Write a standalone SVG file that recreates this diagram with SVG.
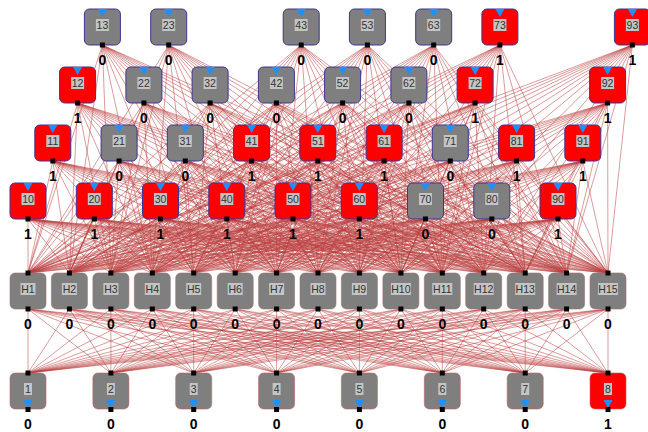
<svg xmlns="http://www.w3.org/2000/svg" width="648" height="432" viewBox="0 0 648 432">
<style>
.in .b{stroke:#3d3596;stroke-width:1}
.hd .b{stroke:#a07070;stroke-width:.6}
.ou .b{stroke:#c06060;stroke-width:.6}
.g{fill:#7f7f7f}
.r{fill:#ff0000}
.tr{fill:#1e90ff}
.tb{fill:#c4c4c4}
.p{fill:#000}
.t{font-family:"Liberation Sans",Arial,sans-serif;font-size:10.5px;fill:#333;text-anchor:middle}
.v{font-family:"Liberation Sans",Arial,sans-serif;font-size:14px;font-weight:bold;fill:#000;text-anchor:middle}
#conn path{fill:none;stroke:#bb4040;stroke-opacity:.62;stroke-width:.85}
</style>
<rect width="648" height="432" fill="#fff"/>
<g id="conn">
<path d="M28 219L28 273M28 219L69.4 273M28 219L110.9 273M28 219L152.3 273M28 219L193.7 273M28 219L235.2 273M28 219L276.6 273M28 219L318 273M28 219L359.4 273M28 219L400.9 273M28 219L442.3 273M28 219L483.7 273M28 219L525.2 273M28 219L566.6 273M28 219L608 273"/>
<path d="M94.3 219L28 273M94.3 219L69.4 273M94.3 219L110.9 273M94.3 219L152.3 273M94.3 219L193.7 273M94.3 219L235.2 273M94.3 219L276.6 273M94.3 219L318 273M94.3 219L359.4 273M94.3 219L400.9 273M94.3 219L442.3 273M94.3 219L483.7 273M94.3 219L525.2 273M94.3 219L566.6 273M94.3 219L608 273"/>
<path d="M160.5 219L28 273M160.5 219L69.4 273M160.5 219L110.9 273M160.5 219L152.3 273M160.5 219L193.7 273M160.5 219L235.2 273M160.5 219L276.6 273M160.5 219L318 273M160.5 219L359.4 273M160.5 219L400.9 273M160.5 219L442.3 273M160.5 219L483.7 273M160.5 219L525.2 273M160.5 219L566.6 273M160.5 219L608 273"/>
<path d="M226.8 219L28 273M226.8 219L69.4 273M226.8 219L110.9 273M226.8 219L152.3 273M226.8 219L193.7 273M226.8 219L235.2 273M226.8 219L276.6 273M226.8 219L318 273M226.8 219L359.4 273M226.8 219L400.9 273M226.8 219L442.3 273M226.8 219L483.7 273M226.8 219L525.2 273M226.8 219L566.6 273M226.8 219L608 273"/>
<path d="M293 219L28 273M293 219L69.4 273M293 219L110.9 273M293 219L152.3 273M293 219L193.7 273M293 219L235.2 273M293 219L276.6 273M293 219L318 273M293 219L359.4 273M293 219L400.9 273M293 219L442.3 273M293 219L483.7 273M293 219L525.2 273M293 219L566.6 273M293 219L608 273"/>
<path d="M359.3 219L28 273M359.3 219L69.4 273M359.3 219L110.9 273M359.3 219L152.3 273M359.3 219L193.7 273M359.3 219L235.2 273M359.3 219L276.6 273M359.3 219L318 273M359.3 219L359.4 273M359.3 219L400.9 273M359.3 219L442.3 273M359.3 219L483.7 273M359.3 219L525.2 273M359.3 219L566.6 273M359.3 219L608 273"/>
<path d="M425.5 219L28 273M425.5 219L69.4 273M425.5 219L110.9 273M425.5 219L152.3 273M425.5 219L193.7 273M425.5 219L235.2 273M425.5 219L276.6 273M425.5 219L318 273M425.5 219L359.4 273M425.5 219L400.9 273M425.5 219L442.3 273M425.5 219L483.7 273M425.5 219L525.2 273M425.5 219L566.6 273M425.5 219L608 273"/>
<path d="M491.8 219L28 273M491.8 219L69.4 273M491.8 219L110.9 273M491.8 219L152.3 273M491.8 219L193.7 273M491.8 219L235.2 273M491.8 219L276.6 273M491.8 219L318 273M491.8 219L359.4 273M491.8 219L400.9 273M491.8 219L442.3 273M491.8 219L483.7 273M491.8 219L525.2 273M491.8 219L566.6 273M491.8 219L608 273"/>
<path d="M558 219L28 273M558 219L69.4 273M558 219L110.9 273M558 219L152.3 273M558 219L193.7 273M558 219L235.2 273M558 219L276.6 273M558 219L318 273M558 219L359.4 273M558 219L400.9 273M558 219L442.3 273M558 219L483.7 273M558 219L525.2 273M558 219L566.6 273M558 219L608 273"/>
<path d="M52.8 161L28 273M52.8 161L69.4 273M52.8 161L110.9 273M52.8 161L152.3 273M52.8 161L193.7 273M52.8 161L235.2 273M52.8 161L276.6 273M52.8 161L318 273M52.8 161L359.4 273M52.8 161L400.9 273M52.8 161L442.3 273M52.8 161L483.7 273M52.8 161L525.2 273M52.8 161L566.6 273M52.8 161L608 273"/>
<path d="M119.1 161L28 273M119.1 161L69.4 273M119.1 161L110.9 273M119.1 161L152.3 273M119.1 161L193.7 273M119.1 161L235.2 273M119.1 161L276.6 273M119.1 161L318 273M119.1 161L359.4 273M119.1 161L400.9 273M119.1 161L442.3 273M119.1 161L483.7 273M119.1 161L525.2 273M119.1 161L566.6 273M119.1 161L608 273"/>
<path d="M185.3 161L28 273M185.3 161L69.4 273M185.3 161L110.9 273M185.3 161L152.3 273M185.3 161L193.7 273M185.3 161L235.2 273M185.3 161L276.6 273M185.3 161L318 273M185.3 161L359.4 273M185.3 161L400.9 273M185.3 161L442.3 273M185.3 161L483.7 273M185.3 161L525.2 273M185.3 161L566.6 273M185.3 161L608 273"/>
<path d="M251.6 161L28 273M251.6 161L69.4 273M251.6 161L110.9 273M251.6 161L152.3 273M251.6 161L193.7 273M251.6 161L235.2 273M251.6 161L276.6 273M251.6 161L318 273M251.6 161L359.4 273M251.6 161L400.9 273M251.6 161L442.3 273M251.6 161L483.7 273M251.6 161L525.2 273M251.6 161L566.6 273M251.6 161L608 273"/>
<path d="M317.8 161L28 273M317.8 161L69.4 273M317.8 161L110.9 273M317.8 161L152.3 273M317.8 161L193.7 273M317.8 161L235.2 273M317.8 161L276.6 273M317.8 161L318 273M317.8 161L359.4 273M317.8 161L400.9 273M317.8 161L442.3 273M317.8 161L483.7 273M317.8 161L525.2 273M317.8 161L566.6 273M317.8 161L608 273"/>
<path d="M384.1 161L28 273M384.1 161L69.4 273M384.1 161L110.9 273M384.1 161L152.3 273M384.1 161L193.7 273M384.1 161L235.2 273M384.1 161L276.6 273M384.1 161L318 273M384.1 161L359.4 273M384.1 161L400.9 273M384.1 161L442.3 273M384.1 161L483.7 273M384.1 161L525.2 273M384.1 161L566.6 273M384.1 161L608 273"/>
<path d="M450.3 161L28 273M450.3 161L69.4 273M450.3 161L110.9 273M450.3 161L152.3 273M450.3 161L193.7 273M450.3 161L235.2 273M450.3 161L276.6 273M450.3 161L318 273M450.3 161L359.4 273M450.3 161L400.9 273M450.3 161L442.3 273M450.3 161L483.7 273M450.3 161L525.2 273M450.3 161L566.6 273M450.3 161L608 273"/>
<path d="M516.6 161L28 273M516.6 161L69.4 273M516.6 161L110.9 273M516.6 161L152.3 273M516.6 161L193.7 273M516.6 161L235.2 273M516.6 161L276.6 273M516.6 161L318 273M516.6 161L359.4 273M516.6 161L400.9 273M516.6 161L442.3 273M516.6 161L483.7 273M516.6 161L525.2 273M516.6 161L566.6 273M516.6 161L608 273"/>
<path d="M582.8 161L28 273M582.8 161L69.4 273M582.8 161L110.9 273M582.8 161L152.3 273M582.8 161L193.7 273M582.8 161L235.2 273M582.8 161L276.6 273M582.8 161L318 273M582.8 161L359.4 273M582.8 161L400.9 273M582.8 161L442.3 273M582.8 161L483.7 273M582.8 161L525.2 273M582.8 161L566.6 273M582.8 161L608 273"/>
<path d="M77.6 103L28 273M77.6 103L69.4 273M77.6 103L110.9 273M77.6 103L152.3 273M77.6 103L193.7 273M77.6 103L235.2 273M77.6 103L276.6 273M77.6 103L318 273M77.6 103L359.4 273M77.6 103L400.9 273M77.6 103L442.3 273M77.6 103L483.7 273M77.6 103L525.2 273M77.6 103L566.6 273M77.6 103L608 273"/>
<path d="M143.9 103L28 273M143.9 103L69.4 273M143.9 103L110.9 273M143.9 103L152.3 273M143.9 103L193.7 273M143.9 103L235.2 273M143.9 103L276.6 273M143.9 103L318 273M143.9 103L359.4 273M143.9 103L400.9 273M143.9 103L442.3 273M143.9 103L483.7 273M143.9 103L525.2 273M143.9 103L566.6 273M143.9 103L608 273"/>
<path d="M210.1 103L28 273M210.1 103L69.4 273M210.1 103L110.9 273M210.1 103L152.3 273M210.1 103L193.7 273M210.1 103L235.2 273M210.1 103L276.6 273M210.1 103L318 273M210.1 103L359.4 273M210.1 103L400.9 273M210.1 103L442.3 273M210.1 103L483.7 273M210.1 103L525.2 273M210.1 103L566.6 273M210.1 103L608 273"/>
<path d="M276.4 103L28 273M276.4 103L69.4 273M276.4 103L110.9 273M276.4 103L152.3 273M276.4 103L193.7 273M276.4 103L235.2 273M276.4 103L276.6 273M276.4 103L318 273M276.4 103L359.4 273M276.4 103L400.9 273M276.4 103L442.3 273M276.4 103L483.7 273M276.4 103L525.2 273M276.4 103L566.6 273M276.4 103L608 273"/>
<path d="M342.6 103L28 273M342.6 103L69.4 273M342.6 103L110.9 273M342.6 103L152.3 273M342.6 103L193.7 273M342.6 103L235.2 273M342.6 103L276.6 273M342.6 103L318 273M342.6 103L359.4 273M342.6 103L400.9 273M342.6 103L442.3 273M342.6 103L483.7 273M342.6 103L525.2 273M342.6 103L566.6 273M342.6 103L608 273"/>
<path d="M408.9 103L28 273M408.9 103L69.4 273M408.9 103L110.9 273M408.9 103L152.3 273M408.9 103L193.7 273M408.9 103L235.2 273M408.9 103L276.6 273M408.9 103L318 273M408.9 103L359.4 273M408.9 103L400.9 273M408.9 103L442.3 273M408.9 103L483.7 273M408.9 103L525.2 273M408.9 103L566.6 273M408.9 103L608 273"/>
<path d="M475.1 103L28 273M475.1 103L69.4 273M475.1 103L110.9 273M475.1 103L152.3 273M475.1 103L193.7 273M475.1 103L235.2 273M475.1 103L276.6 273M475.1 103L318 273M475.1 103L359.4 273M475.1 103L400.9 273M475.1 103L442.3 273M475.1 103L483.7 273M475.1 103L525.2 273M475.1 103L566.6 273M475.1 103L608 273"/>
<path d="M607.6 103L28 273M607.6 103L69.4 273M607.6 103L110.9 273M607.6 103L152.3 273M607.6 103L193.7 273M607.6 103L235.2 273M607.6 103L276.6 273M607.6 103L318 273M607.6 103L359.4 273M607.6 103L400.9 273M607.6 103L442.3 273M607.6 103L483.7 273M607.6 103L525.2 273M607.6 103L566.6 273M607.6 103L608 273"/>
<path d="M102.4 45L28 273M102.4 45L69.4 273M102.4 45L110.9 273M102.4 45L152.3 273M102.4 45L193.7 273M102.4 45L235.2 273M102.4 45L276.6 273M102.4 45L318 273M102.4 45L359.4 273M102.4 45L400.9 273M102.4 45L442.3 273M102.4 45L483.7 273M102.4 45L525.2 273M102.4 45L566.6 273M102.4 45L608 273"/>
<path d="M168.7 45L28 273M168.7 45L69.4 273M168.7 45L110.9 273M168.7 45L152.3 273M168.7 45L193.7 273M168.7 45L235.2 273M168.7 45L276.6 273M168.7 45L318 273M168.7 45L359.4 273M168.7 45L400.9 273M168.7 45L442.3 273M168.7 45L483.7 273M168.7 45L525.2 273M168.7 45L566.6 273M168.7 45L608 273"/>
<path d="M301.2 45L28 273M301.2 45L69.4 273M301.2 45L110.9 273M301.2 45L152.3 273M301.2 45L193.7 273M301.2 45L235.2 273M301.2 45L276.6 273M301.2 45L318 273M301.2 45L359.4 273M301.2 45L400.9 273M301.2 45L442.3 273M301.2 45L483.7 273M301.2 45L525.2 273M301.2 45L566.6 273M301.2 45L608 273"/>
<path d="M367.4 45L28 273M367.4 45L69.4 273M367.4 45L110.9 273M367.4 45L152.3 273M367.4 45L193.7 273M367.4 45L235.2 273M367.4 45L276.6 273M367.4 45L318 273M367.4 45L359.4 273M367.4 45L400.9 273M367.4 45L442.3 273M367.4 45L483.7 273M367.4 45L525.2 273M367.4 45L566.6 273M367.4 45L608 273"/>
<path d="M433.7 45L28 273M433.7 45L69.4 273M433.7 45L110.9 273M433.7 45L152.3 273M433.7 45L193.7 273M433.7 45L235.2 273M433.7 45L276.6 273M433.7 45L318 273M433.7 45L359.4 273M433.7 45L400.9 273M433.7 45L442.3 273M433.7 45L483.7 273M433.7 45L525.2 273M433.7 45L566.6 273M433.7 45L608 273"/>
<path d="M499.9 45L28 273M499.9 45L69.4 273M499.9 45L110.9 273M499.9 45L152.3 273M499.9 45L193.7 273M499.9 45L235.2 273M499.9 45L276.6 273M499.9 45L318 273M499.9 45L359.4 273M499.9 45L400.9 273M499.9 45L442.3 273M499.9 45L483.7 273M499.9 45L525.2 273M499.9 45L566.6 273M499.9 45L608 273"/>
<path d="M632.4 45L28 273M632.4 45L69.4 273M632.4 45L110.9 273M632.4 45L152.3 273M632.4 45L193.7 273M632.4 45L235.2 273M632.4 45L276.6 273M632.4 45L318 273M632.4 45L359.4 273M632.4 45L400.9 273M632.4 45L442.3 273M632.4 45L483.7 273M632.4 45L525.2 273M632.4 45L566.6 273M632.4 45L608 273"/>
<path d="M28 309L28 373M28 309L110.9 373M28 309L193.7 373M28 309L276.6 373M28 309L359.4 373M28 309L442.3 373M28 309L525.2 373M28 309L608 373"/>
<path d="M69.4 309L28 373M69.4 309L110.9 373M69.4 309L193.7 373M69.4 309L276.6 373M69.4 309L359.4 373M69.4 309L442.3 373M69.4 309L525.2 373M69.4 309L608 373"/>
<path d="M110.9 309L28 373M110.9 309L110.9 373M110.9 309L193.7 373M110.9 309L276.6 373M110.9 309L359.4 373M110.9 309L442.3 373M110.9 309L525.2 373M110.9 309L608 373"/>
<path d="M152.3 309L28 373M152.3 309L110.9 373M152.3 309L193.7 373M152.3 309L276.6 373M152.3 309L359.4 373M152.3 309L442.3 373M152.3 309L525.2 373M152.3 309L608 373"/>
<path d="M193.7 309L28 373M193.7 309L110.9 373M193.7 309L193.7 373M193.7 309L276.6 373M193.7 309L359.4 373M193.7 309L442.3 373M193.7 309L525.2 373M193.7 309L608 373"/>
<path d="M235.2 309L28 373M235.2 309L110.9 373M235.2 309L193.7 373M235.2 309L276.6 373M235.2 309L359.4 373M235.2 309L442.3 373M235.2 309L525.2 373M235.2 309L608 373"/>
<path d="M276.6 309L28 373M276.6 309L110.9 373M276.6 309L193.7 373M276.6 309L276.6 373M276.6 309L359.4 373M276.6 309L442.3 373M276.6 309L525.2 373M276.6 309L608 373"/>
<path d="M318 309L28 373M318 309L110.9 373M318 309L193.7 373M318 309L276.6 373M318 309L359.4 373M318 309L442.3 373M318 309L525.2 373M318 309L608 373"/>
<path d="M359.4 309L28 373M359.4 309L110.9 373M359.4 309L193.7 373M359.4 309L276.6 373M359.4 309L359.4 373M359.4 309L442.3 373M359.4 309L525.2 373M359.4 309L608 373"/>
<path d="M400.9 309L28 373M400.9 309L110.9 373M400.9 309L193.7 373M400.9 309L276.6 373M400.9 309L359.4 373M400.9 309L442.3 373M400.9 309L525.2 373M400.9 309L608 373"/>
<path d="M442.3 309L28 373M442.3 309L110.9 373M442.3 309L193.7 373M442.3 309L276.6 373M442.3 309L359.4 373M442.3 309L442.3 373M442.3 309L525.2 373M442.3 309L608 373"/>
<path d="M483.7 309L28 373M483.7 309L110.9 373M483.7 309L193.7 373M483.7 309L276.6 373M483.7 309L359.4 373M483.7 309L442.3 373M483.7 309L525.2 373M483.7 309L608 373"/>
<path d="M525.2 309L28 373M525.2 309L110.9 373M525.2 309L193.7 373M525.2 309L276.6 373M525.2 309L359.4 373M525.2 309L442.3 373M525.2 309L525.2 373M525.2 309L608 373"/>
<path d="M566.6 309L28 373M566.6 309L110.9 373M566.6 309L193.7 373M566.6 309L276.6 373M566.6 309L359.4 373M566.6 309L442.3 373M566.6 309L525.2 373M566.6 309L608 373"/>
<path d="M608 309L28 373M608 309L110.9 373M608 309L193.7 373M608 309L276.6 373M608 309L359.4 373M608 309L442.3 373M608 309L525.2 373M608 309L608 373"/>
</g>
<g id="nodes">
<g id="n13" class="in" transform="translate(84.4,9)"><rect class="b g" width="36" height="36" rx="5"/><path class="tr" d="M13.5 0h9L18 8z"/><rect class="tb" x="11.5" y="10" width="13" height="12"/><text class="t" x="18" y="20">13</text><rect class="p" x="15.5" y="33.5" width="5" height="5"/><text class="v" x="18" y="56">0</text></g>
<g id="n23" class="in" transform="translate(150.7,9)"><rect class="b g" width="36" height="36" rx="5"/><path class="tr" d="M13.5 0h9L18 8z"/><rect class="tb" x="11.5" y="10" width="13" height="12"/><text class="t" x="18" y="20">23</text><rect class="p" x="15.5" y="33.5" width="5" height="5"/><text class="v" x="18" y="56">0</text></g>
<g id="n43" class="in" transform="translate(283.2,9)"><rect class="b g" width="36" height="36" rx="5"/><path class="tr" d="M13.5 0h9L18 8z"/><rect class="tb" x="11.5" y="10" width="13" height="12"/><text class="t" x="18" y="20">43</text><rect class="p" x="15.5" y="33.5" width="5" height="5"/><text class="v" x="18" y="56">0</text></g>
<g id="n53" class="in" transform="translate(349.4,9)"><rect class="b g" width="36" height="36" rx="5"/><path class="tr" d="M13.5 0h9L18 8z"/><rect class="tb" x="11.5" y="10" width="13" height="12"/><text class="t" x="18" y="20">53</text><rect class="p" x="15.5" y="33.5" width="5" height="5"/><text class="v" x="18" y="56">0</text></g>
<g id="n63" class="in" transform="translate(415.7,9)"><rect class="b g" width="36" height="36" rx="5"/><path class="tr" d="M13.5 0h9L18 8z"/><rect class="tb" x="11.5" y="10" width="13" height="12"/><text class="t" x="18" y="20">63</text><rect class="p" x="15.5" y="33.5" width="5" height="5"/><text class="v" x="18" y="56">0</text></g>
<g id="n73" class="in" transform="translate(481.9,9)"><rect class="b r" width="36" height="36" rx="5"/><path class="tr" d="M13.5 0h9L18 8z"/><rect class="tb" x="11.5" y="10" width="13" height="12"/><text class="t" x="18" y="20">73</text><rect class="p" x="15.5" y="33.5" width="5" height="5"/><text class="v" x="18" y="56">1</text></g>
<g id="n93" class="in" transform="translate(614.4,9)"><rect class="b r" width="36" height="36" rx="5"/><path class="tr" d="M13.5 0h9L18 8z"/><rect class="tb" x="11.5" y="10" width="13" height="12"/><text class="t" x="18" y="20">93</text><rect class="p" x="15.5" y="33.5" width="5" height="5"/><text class="v" x="18" y="56">1</text></g>
<g id="n12" class="in" transform="translate(59.6,67)"><rect class="b r" width="36" height="36" rx="5"/><path class="tr" d="M13.5 0h9L18 8z"/><rect class="tb" x="11.5" y="10" width="13" height="12"/><text class="t" x="18" y="20">12</text><rect class="p" x="15.5" y="33.5" width="5" height="5"/><text class="v" x="18" y="56">1</text></g>
<g id="n22" class="in" transform="translate(125.9,67)"><rect class="b g" width="36" height="36" rx="5"/><path class="tr" d="M13.5 0h9L18 8z"/><rect class="tb" x="11.5" y="10" width="13" height="12"/><text class="t" x="18" y="20">22</text><rect class="p" x="15.5" y="33.5" width="5" height="5"/><text class="v" x="18" y="56">0</text></g>
<g id="n32" class="in" transform="translate(192.1,67)"><rect class="b g" width="36" height="36" rx="5"/><path class="tr" d="M13.5 0h9L18 8z"/><rect class="tb" x="11.5" y="10" width="13" height="12"/><text class="t" x="18" y="20">32</text><rect class="p" x="15.5" y="33.5" width="5" height="5"/><text class="v" x="18" y="56">0</text></g>
<g id="n42" class="in" transform="translate(258.4,67)"><rect class="b g" width="36" height="36" rx="5"/><path class="tr" d="M13.5 0h9L18 8z"/><rect class="tb" x="11.5" y="10" width="13" height="12"/><text class="t" x="18" y="20">42</text><rect class="p" x="15.5" y="33.5" width="5" height="5"/><text class="v" x="18" y="56">0</text></g>
<g id="n52" class="in" transform="translate(324.6,67)"><rect class="b g" width="36" height="36" rx="5"/><path class="tr" d="M13.5 0h9L18 8z"/><rect class="tb" x="11.5" y="10" width="13" height="12"/><text class="t" x="18" y="20">52</text><rect class="p" x="15.5" y="33.5" width="5" height="5"/><text class="v" x="18" y="56">0</text></g>
<g id="n62" class="in" transform="translate(390.9,67)"><rect class="b g" width="36" height="36" rx="5"/><path class="tr" d="M13.5 0h9L18 8z"/><rect class="tb" x="11.5" y="10" width="13" height="12"/><text class="t" x="18" y="20">62</text><rect class="p" x="15.5" y="33.5" width="5" height="5"/><text class="v" x="18" y="56">0</text></g>
<g id="n72" class="in" transform="translate(457.1,67)"><rect class="b r" width="36" height="36" rx="5"/><path class="tr" d="M13.5 0h9L18 8z"/><rect class="tb" x="11.5" y="10" width="13" height="12"/><text class="t" x="18" y="20">72</text><rect class="p" x="15.5" y="33.5" width="5" height="5"/><text class="v" x="18" y="56">1</text></g>
<g id="n92" class="in" transform="translate(589.6,67)"><rect class="b r" width="36" height="36" rx="5"/><path class="tr" d="M13.5 0h9L18 8z"/><rect class="tb" x="11.5" y="10" width="13" height="12"/><text class="t" x="18" y="20">92</text><rect class="p" x="15.5" y="33.5" width="5" height="5"/><text class="v" x="18" y="56">1</text></g>
<g id="n11" class="in" transform="translate(34.8,125)"><rect class="b r" width="36" height="36" rx="5"/><path class="tr" d="M13.5 0h9L18 8z"/><rect class="tb" x="11.5" y="10" width="13" height="12"/><text class="t" x="18" y="20">11</text><rect class="p" x="15.5" y="33.5" width="5" height="5"/><text class="v" x="18" y="56">1</text></g>
<g id="n21" class="in" transform="translate(101.1,125)"><rect class="b g" width="36" height="36" rx="5"/><path class="tr" d="M13.5 0h9L18 8z"/><rect class="tb" x="11.5" y="10" width="13" height="12"/><text class="t" x="18" y="20">21</text><rect class="p" x="15.5" y="33.5" width="5" height="5"/><text class="v" x="18" y="56">0</text></g>
<g id="n31" class="in" transform="translate(167.3,125)"><rect class="b g" width="36" height="36" rx="5"/><path class="tr" d="M13.5 0h9L18 8z"/><rect class="tb" x="11.5" y="10" width="13" height="12"/><text class="t" x="18" y="20">31</text><rect class="p" x="15.5" y="33.5" width="5" height="5"/><text class="v" x="18" y="56">0</text></g>
<g id="n41" class="in" transform="translate(233.6,125)"><rect class="b r" width="36" height="36" rx="5"/><path class="tr" d="M13.5 0h9L18 8z"/><rect class="tb" x="11.5" y="10" width="13" height="12"/><text class="t" x="18" y="20">41</text><rect class="p" x="15.5" y="33.5" width="5" height="5"/><text class="v" x="18" y="56">1</text></g>
<g id="n51" class="in" transform="translate(299.8,125)"><rect class="b r" width="36" height="36" rx="5"/><path class="tr" d="M13.5 0h9L18 8z"/><rect class="tb" x="11.5" y="10" width="13" height="12"/><text class="t" x="18" y="20">51</text><rect class="p" x="15.5" y="33.5" width="5" height="5"/><text class="v" x="18" y="56">1</text></g>
<g id="n61" class="in" transform="translate(366.1,125)"><rect class="b r" width="36" height="36" rx="5"/><path class="tr" d="M13.5 0h9L18 8z"/><rect class="tb" x="11.5" y="10" width="13" height="12"/><text class="t" x="18" y="20">61</text><rect class="p" x="15.5" y="33.5" width="5" height="5"/><text class="v" x="18" y="56">1</text></g>
<g id="n71" class="in" transform="translate(432.3,125)"><rect class="b g" width="36" height="36" rx="5"/><path class="tr" d="M13.5 0h9L18 8z"/><rect class="tb" x="11.5" y="10" width="13" height="12"/><text class="t" x="18" y="20">71</text><rect class="p" x="15.5" y="33.5" width="5" height="5"/><text class="v" x="18" y="56">0</text></g>
<g id="n81" class="in" transform="translate(498.6,125)"><rect class="b r" width="36" height="36" rx="5"/><path class="tr" d="M13.5 0h9L18 8z"/><rect class="tb" x="11.5" y="10" width="13" height="12"/><text class="t" x="18" y="20">81</text><rect class="p" x="15.5" y="33.5" width="5" height="5"/><text class="v" x="18" y="56">1</text></g>
<g id="n91" class="in" transform="translate(564.8,125)"><rect class="b r" width="36" height="36" rx="5"/><path class="tr" d="M13.5 0h9L18 8z"/><rect class="tb" x="11.5" y="10" width="13" height="12"/><text class="t" x="18" y="20">91</text><rect class="p" x="15.5" y="33.5" width="5" height="5"/><text class="v" x="18" y="56">1</text></g>
<g id="n10" class="in" transform="translate(10,183)"><rect class="b r" width="36" height="36" rx="5"/><path class="tr" d="M13.5 0h9L18 8z"/><rect class="tb" x="11.5" y="10" width="13" height="12"/><text class="t" x="18" y="20">10</text><rect class="p" x="15.5" y="33.5" width="5" height="5"/><text class="v" x="18" y="56">1</text></g>
<g id="n20" class="in" transform="translate(76.3,183)"><rect class="b r" width="36" height="36" rx="5"/><path class="tr" d="M13.5 0h9L18 8z"/><rect class="tb" x="11.5" y="10" width="13" height="12"/><text class="t" x="18" y="20">20</text><rect class="p" x="15.5" y="33.5" width="5" height="5"/><text class="v" x="18" y="56">1</text></g>
<g id="n30" class="in" transform="translate(142.5,183)"><rect class="b r" width="36" height="36" rx="5"/><path class="tr" d="M13.5 0h9L18 8z"/><rect class="tb" x="11.5" y="10" width="13" height="12"/><text class="t" x="18" y="20">30</text><rect class="p" x="15.5" y="33.5" width="5" height="5"/><text class="v" x="18" y="56">1</text></g>
<g id="n40" class="in" transform="translate(208.8,183)"><rect class="b r" width="36" height="36" rx="5"/><path class="tr" d="M13.5 0h9L18 8z"/><rect class="tb" x="11.5" y="10" width="13" height="12"/><text class="t" x="18" y="20">40</text><rect class="p" x="15.5" y="33.5" width="5" height="5"/><text class="v" x="18" y="56">1</text></g>
<g id="n50" class="in" transform="translate(275,183)"><rect class="b r" width="36" height="36" rx="5"/><path class="tr" d="M13.5 0h9L18 8z"/><rect class="tb" x="11.5" y="10" width="13" height="12"/><text class="t" x="18" y="20">50</text><rect class="p" x="15.5" y="33.5" width="5" height="5"/><text class="v" x="18" y="56">1</text></g>
<g id="n60" class="in" transform="translate(341.3,183)"><rect class="b r" width="36" height="36" rx="5"/><path class="tr" d="M13.5 0h9L18 8z"/><rect class="tb" x="11.5" y="10" width="13" height="12"/><text class="t" x="18" y="20">60</text><rect class="p" x="15.5" y="33.5" width="5" height="5"/><text class="v" x="18" y="56">1</text></g>
<g id="n70" class="in" transform="translate(407.5,183)"><rect class="b g" width="36" height="36" rx="5"/><path class="tr" d="M13.5 0h9L18 8z"/><rect class="tb" x="11.5" y="10" width="13" height="12"/><text class="t" x="18" y="20">70</text><rect class="p" x="15.5" y="33.5" width="5" height="5"/><text class="v" x="18" y="56">0</text></g>
<g id="n80" class="in" transform="translate(473.8,183)"><rect class="b g" width="36" height="36" rx="5"/><path class="tr" d="M13.5 0h9L18 8z"/><rect class="tb" x="11.5" y="10" width="13" height="12"/><text class="t" x="18" y="20">80</text><rect class="p" x="15.5" y="33.5" width="5" height="5"/><text class="v" x="18" y="56">0</text></g>
<g id="n90" class="in" transform="translate(540,183)"><rect class="b r" width="36" height="36" rx="5"/><path class="tr" d="M13.5 0h9L18 8z"/><rect class="tb" x="11.5" y="10" width="13" height="12"/><text class="t" x="18" y="20">90</text><rect class="p" x="15.5" y="33.5" width="5" height="5"/><text class="v" x="18" y="56">1</text></g>
<g id="h1" class="hd" transform="translate(10,273)"><rect class="b g" width="36" height="36" rx="5"/><rect class="tb" x="10.5" y="10" width="15" height="12"/><text class="t" x="18" y="20">H1</text><rect class="p" x="15.5" y="-2.5" width="5" height="5"/><rect class="p" x="15.5" y="33.5" width="5" height="5"/><text class="v" x="18" y="56">0</text></g>
<g id="h2" class="hd" transform="translate(51.4,273)"><rect class="b g" width="36" height="36" rx="5"/><rect class="tb" x="10.5" y="10" width="15" height="12"/><text class="t" x="18" y="20">H2</text><rect class="p" x="15.5" y="-2.5" width="5" height="5"/><rect class="p" x="15.5" y="33.5" width="5" height="5"/><text class="v" x="18" y="56">0</text></g>
<g id="h3" class="hd" transform="translate(92.9,273)"><rect class="b g" width="36" height="36" rx="5"/><rect class="tb" x="10.5" y="10" width="15" height="12"/><text class="t" x="18" y="20">H3</text><rect class="p" x="15.5" y="-2.5" width="5" height="5"/><rect class="p" x="15.5" y="33.5" width="5" height="5"/><text class="v" x="18" y="56">0</text></g>
<g id="h4" class="hd" transform="translate(134.3,273)"><rect class="b g" width="36" height="36" rx="5"/><rect class="tb" x="10.5" y="10" width="15" height="12"/><text class="t" x="18" y="20">H4</text><rect class="p" x="15.5" y="-2.5" width="5" height="5"/><rect class="p" x="15.5" y="33.5" width="5" height="5"/><text class="v" x="18" y="56">0</text></g>
<g id="h5" class="hd" transform="translate(175.7,273)"><rect class="b g" width="36" height="36" rx="5"/><rect class="tb" x="10.5" y="10" width="15" height="12"/><text class="t" x="18" y="20">H5</text><rect class="p" x="15.5" y="-2.5" width="5" height="5"/><rect class="p" x="15.5" y="33.5" width="5" height="5"/><text class="v" x="18" y="56">0</text></g>
<g id="h6" class="hd" transform="translate(217.2,273)"><rect class="b g" width="36" height="36" rx="5"/><rect class="tb" x="10.5" y="10" width="15" height="12"/><text class="t" x="18" y="20">H6</text><rect class="p" x="15.5" y="-2.5" width="5" height="5"/><rect class="p" x="15.5" y="33.5" width="5" height="5"/><text class="v" x="18" y="56">0</text></g>
<g id="h7" class="hd" transform="translate(258.6,273)"><rect class="b g" width="36" height="36" rx="5"/><rect class="tb" x="10.5" y="10" width="15" height="12"/><text class="t" x="18" y="20">H7</text><rect class="p" x="15.5" y="-2.5" width="5" height="5"/><rect class="p" x="15.5" y="33.5" width="5" height="5"/><text class="v" x="18" y="56">0</text></g>
<g id="h8" class="hd" transform="translate(300,273)"><rect class="b g" width="36" height="36" rx="5"/><rect class="tb" x="10.5" y="10" width="15" height="12"/><text class="t" x="18" y="20">H8</text><rect class="p" x="15.5" y="-2.5" width="5" height="5"/><rect class="p" x="15.5" y="33.5" width="5" height="5"/><text class="v" x="18" y="56">0</text></g>
<g id="h9" class="hd" transform="translate(341.4,273)"><rect class="b g" width="36" height="36" rx="5"/><rect class="tb" x="10.5" y="10" width="15" height="12"/><text class="t" x="18" y="20">H9</text><rect class="p" x="15.5" y="-2.5" width="5" height="5"/><rect class="p" x="15.5" y="33.5" width="5" height="5"/><text class="v" x="18" y="56">0</text></g>
<g id="h10" class="hd" transform="translate(382.9,273)"><rect class="b g" width="36" height="36" rx="5"/><rect class="tb" x="8" y="10" width="20" height="12"/><text class="t" x="18" y="20">H10</text><rect class="p" x="15.5" y="-2.5" width="5" height="5"/><rect class="p" x="15.5" y="33.5" width="5" height="5"/><text class="v" x="18" y="56">0</text></g>
<g id="h11" class="hd" transform="translate(424.3,273)"><rect class="b g" width="36" height="36" rx="5"/><rect class="tb" x="8" y="10" width="20" height="12"/><text class="t" x="18" y="20">H11</text><rect class="p" x="15.5" y="-2.5" width="5" height="5"/><rect class="p" x="15.5" y="33.5" width="5" height="5"/><text class="v" x="18" y="56">0</text></g>
<g id="h12" class="hd" transform="translate(465.7,273)"><rect class="b g" width="36" height="36" rx="5"/><rect class="tb" x="8" y="10" width="20" height="12"/><text class="t" x="18" y="20">H12</text><rect class="p" x="15.5" y="-2.5" width="5" height="5"/><rect class="p" x="15.5" y="33.5" width="5" height="5"/><text class="v" x="18" y="56">0</text></g>
<g id="h13" class="hd" transform="translate(507.2,273)"><rect class="b g" width="36" height="36" rx="5"/><rect class="tb" x="8" y="10" width="20" height="12"/><text class="t" x="18" y="20">H13</text><rect class="p" x="15.5" y="-2.5" width="5" height="5"/><rect class="p" x="15.5" y="33.5" width="5" height="5"/><text class="v" x="18" y="56">0</text></g>
<g id="h14" class="hd" transform="translate(548.6,273)"><rect class="b g" width="36" height="36" rx="5"/><rect class="tb" x="8" y="10" width="20" height="12"/><text class="t" x="18" y="20">H14</text><rect class="p" x="15.5" y="-2.5" width="5" height="5"/><rect class="p" x="15.5" y="33.5" width="5" height="5"/><text class="v" x="18" y="56">0</text></g>
<g id="h15" class="hd" transform="translate(590,273)"><rect class="b g" width="36" height="36" rx="5"/><rect class="tb" x="8" y="10" width="20" height="12"/><text class="t" x="18" y="20">H15</text><rect class="p" x="15.5" y="-2.5" width="5" height="5"/><rect class="p" x="15.5" y="33.5" width="5" height="5"/><text class="v" x="18" y="56">0</text></g>
<g id="o1" class="ou" transform="translate(10,373)"><rect class="b g" width="36" height="36" rx="5"/><rect class="tb" x="14" y="10" width="8" height="12"/><text class="t" x="18" y="20">1</text><rect class="p" x="15.5" y="-2.5" width="5" height="5"/><path class="tr" d="M13.5 27h9L18 35z"/><rect class="p" x="15.5" y="34" width="5" height="5"/><text class="v" x="18" y="56">0</text></g>
<g id="o2" class="ou" transform="translate(92.9,373)"><rect class="b g" width="36" height="36" rx="5"/><rect class="tb" x="14" y="10" width="8" height="12"/><text class="t" x="18" y="20">2</text><rect class="p" x="15.5" y="-2.5" width="5" height="5"/><path class="tr" d="M13.5 27h9L18 35z"/><rect class="p" x="15.5" y="34" width="5" height="5"/><text class="v" x="18" y="56">0</text></g>
<g id="o3" class="ou" transform="translate(175.7,373)"><rect class="b g" width="36" height="36" rx="5"/><rect class="tb" x="14" y="10" width="8" height="12"/><text class="t" x="18" y="20">3</text><rect class="p" x="15.5" y="-2.5" width="5" height="5"/><path class="tr" d="M13.5 27h9L18 35z"/><rect class="p" x="15.5" y="34" width="5" height="5"/><text class="v" x="18" y="56">0</text></g>
<g id="o4" class="ou" transform="translate(258.6,373)"><rect class="b g" width="36" height="36" rx="5"/><rect class="tb" x="14" y="10" width="8" height="12"/><text class="t" x="18" y="20">4</text><rect class="p" x="15.5" y="-2.5" width="5" height="5"/><path class="tr" d="M13.5 27h9L18 35z"/><rect class="p" x="15.5" y="34" width="5" height="5"/><text class="v" x="18" y="56">0</text></g>
<g id="o5" class="ou" transform="translate(341.4,373)"><rect class="b g" width="36" height="36" rx="5"/><rect class="tb" x="14" y="10" width="8" height="12"/><text class="t" x="18" y="20">5</text><rect class="p" x="15.5" y="-2.5" width="5" height="5"/><path class="tr" d="M13.5 27h9L18 35z"/><rect class="p" x="15.5" y="34" width="5" height="5"/><text class="v" x="18" y="56">0</text></g>
<g id="o6" class="ou" transform="translate(424.3,373)"><rect class="b g" width="36" height="36" rx="5"/><rect class="tb" x="14" y="10" width="8" height="12"/><text class="t" x="18" y="20">6</text><rect class="p" x="15.5" y="-2.5" width="5" height="5"/><path class="tr" d="M13.5 27h9L18 35z"/><rect class="p" x="15.5" y="34" width="5" height="5"/><text class="v" x="18" y="56">0</text></g>
<g id="o7" class="ou" transform="translate(507.2,373)"><rect class="b g" width="36" height="36" rx="5"/><rect class="tb" x="14" y="10" width="8" height="12"/><text class="t" x="18" y="20">7</text><rect class="p" x="15.5" y="-2.5" width="5" height="5"/><path class="tr" d="M13.5 27h9L18 35z"/><rect class="p" x="15.5" y="34" width="5" height="5"/><text class="v" x="18" y="56">0</text></g>
<g id="o8" class="ou" transform="translate(590,373)"><rect class="b r" width="36" height="36" rx="5"/><rect class="tb" x="14" y="10" width="8" height="12"/><text class="t" x="18" y="20">8</text><rect class="p" x="15.5" y="-2.5" width="5" height="5"/><path class="tr" d="M13.5 27h9L18 35z"/><rect class="p" x="15.5" y="34" width="5" height="5"/><text class="v" x="18" y="56">1</text></g>
</g>
</svg>
